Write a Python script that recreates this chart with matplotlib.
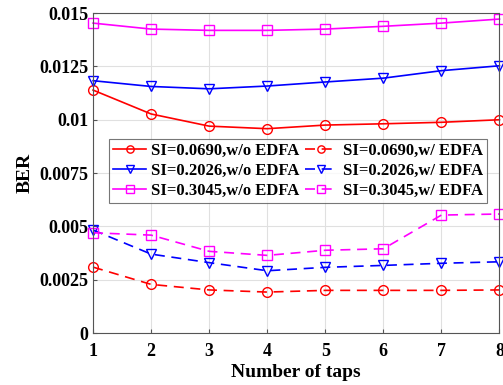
import matplotlib.pyplot as plt
import numpy as np

plt.rcParams['font.family'] = ['Liberation Serif', 'DejaVu Serif']
plt.rcParams['font.weight'] = 'bold'

taps = [1, 2, 3, 4, 5, 6, 7, 8]

# w/o EDFA
ber_0690_wo = [0.01139, 0.01027, 0.00970, 0.00958, 0.00975, 0.00981, 0.00988, 0.01000]
ber_2026_wo = [0.01183, 0.01156, 0.01145, 0.01158, 0.01177, 0.01195, 0.01230, 0.01253]
ber_3045_wo = [0.01453, 0.01425, 0.01419, 0.01419, 0.01425, 0.01438, 0.01453, 0.01472]

# w/ EDFA
ber_0690_w = [0.00309, 0.00228, 0.00202, 0.00192, 0.00200, 0.00200, 0.00200, 0.00202]
ber_2026_w = [0.00483, 0.00370, 0.00330, 0.00292, 0.00308, 0.00317, 0.00327, 0.00334]
ber_3045_w = [0.00470, 0.00459, 0.00383, 0.00364, 0.00388, 0.00395, 0.00553, 0.00558]

labels_wo = ['SI=0.0690,w/o EDFA', 'SI=0.2026,w/o EDFA', 'SI=0.3045,w/o EDFA']
labels_w = ['SI=0.0690,w/ EDFA', 'SI=0.2026,w/ EDFA', 'SI=0.3045,w/ EDFA']
yticks = [0, 0.0025, 0.005, 0.0075, 0.01, 0.0125, 0.015]
ytick_labels = ['0', '0.0025', '0.005', '0.0075', '0.01', '0.0125', '0.015']

colors = ['#ff0000', '#0000ff', '#ff00ff']
markers = ['o', 'v', 's']

fig = plt.figure(figsize=(5.03, 3.85), dpi=100)
ax = fig.add_axes([0.185, 0.135, 0.808, 0.831])

for ys, lab, c, m in zip([ber_0690_wo, ber_2026_wo, ber_3045_wo], labels_wo, colors, markers):
    ax.plot(taps, ys, color=c, marker=m, markerfacecolor='none', markersize=7,
            linewidth=1.2, label=lab, clip_on=False)
for ys, lab, c, m in zip([ber_0690_w, ber_2026_w, ber_3045_w], labels_w, colors, markers):
    ax.plot(taps, ys, color=c, marker=m, markerfacecolor='none', markersize=7,
            linewidth=1.2, linestyle=(0, (6, 4)), label=lab, clip_on=False)

ax.set_xlim(1, 8)
ax.set_ylim(0, 0.015)
ax.set_xticks(taps)
ax.set_yticks(yticks)
ax.set_yticklabels(ytick_labels)
ax.tick_params(direction='in', labelsize=13, length=3, color='#555555')
ax.tick_params(axis='x', pad=7)
for lbl in ax.get_xticklabels() + ax.get_yticklabels():
    lbl.set_fontweight('bold')
ax.grid(True, color='#e0e0e0', linewidth=0.8)
for s in ax.spines.values():
    s.set_color('#555555')
ax.set_xlabel('Number of taps', fontsize=14, fontweight='bold', labelpad=3)
ax.set_ylabel('BER', fontsize=14, fontweight='bold', labelpad=4)

leg = ax.legend(ncol=2, loc='upper left', bbox_to_anchor=(0.039, 0.606),
                prop={'size': 12, 'weight': 'bold'}, frameon=True, fancybox=False,
                borderpad=0.25, labelspacing=0.22, handlelength=2.0, markerscale=0.75,
                handletextpad=0.3, columnspacing=0.3, borderaxespad=0)
leg.get_frame().set_edgecolor('#555555')
leg.get_frame().set_linewidth(0.8)

fig.savefig('out.png', dpi=100)
